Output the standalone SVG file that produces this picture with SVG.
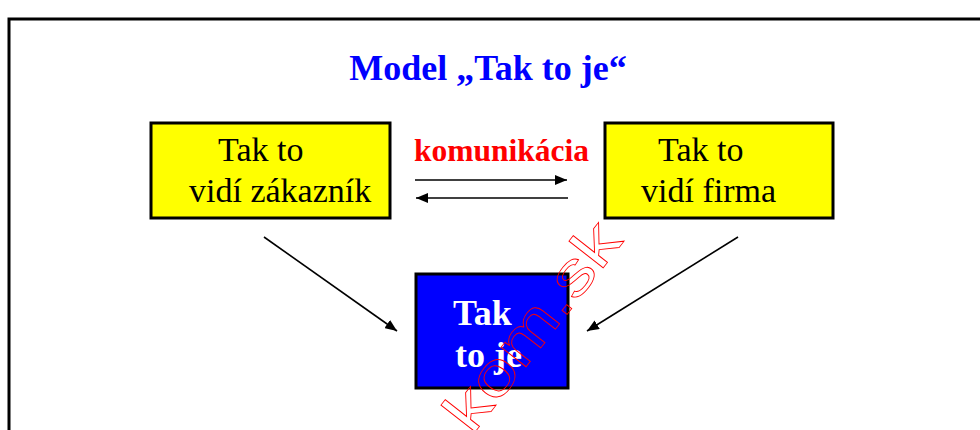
<svg xmlns="http://www.w3.org/2000/svg" width="980" height="430" viewBox="0 0 980 430">
<style>
.box{stroke:#000;stroke-width:3}
.reg{font-family:"Liberation Serif","Times New Roman",serif;font-size:34px;fill:#000}
.bold{font-family:"Liberation Serif","Times New Roman",serif;font-size:36px;font-weight:bold}
.conn{stroke:#000;stroke-width:1.6;fill:none}
</style>
<defs>
<marker id="ah" viewBox="0 0 12 10" refX="12" refY="5" markerWidth="12" markerHeight="10" markerUnits="userSpaceOnUse" orient="auto">
<path d="M0,0 L12,5 L0,10 Z" fill="#000"/>
</marker>
</defs>
<rect width="980" height="430" fill="#fff"/>
<rect x="9" y="19" width="1000" height="500" fill="none" stroke="#000" stroke-width="3"/>
<g id="title">
<text class="bold" x="488" y="80" text-anchor="middle" fill="#0000FF">Model „Tak to je“</text>
</g>
<g id="zakaznik">
<rect class="box" x="151" y="123" width="239" height="95" fill="#FFFF00"/>
<text class="reg" x="218" y="161">Tak to</text>
<text class="reg" x="189" y="202">vidí zákazník</text>
</g>
<g id="firma">
<rect class="box" x="605" y="123" width="228" height="95" fill="#FFFF00"/>
<text class="reg" x="658" y="161">Tak to</text>
<text class="reg" x="641" y="202">vidí firma</text>
</g>
<g id="takToJe">
<rect class="box" x="416" y="274" width="152" height="114" fill="#0000FF"/>
<text class="bold" x="453" y="325" fill="#fff">Tak</text>
<text class="bold" x="455" y="367" fill="#fff">to je</text>
</g>
<g id="komunikacia">
<text class="bold" x="414" y="161" fill="#FF0000" style="font-size:31.5px">komunikácia</text>
</g>
<g id="connectors">
<line class="conn" x1="415" y1="180" x2="567" y2="180" marker-end="url(#ah)"/>
<line class="conn" x1="568" y1="198" x2="416" y2="198" marker-end="url(#ah)"/>
<line class="conn" x1="264" y1="237" x2="397" y2="331" marker-end="url(#ah)"/>
<line class="conn" x1="738" y1="237" x2="587" y2="331" marker-end="url(#ah)"/>
</g>
<text x="0" y="0" transform="translate(472,436) rotate(-52) scale(1.3,1)" font-family="'Liberation Sans',Arial,sans-serif" font-size="60" fill="none" stroke="#FF0000" stroke-width="0.8">kom.sk</text>
</svg>
